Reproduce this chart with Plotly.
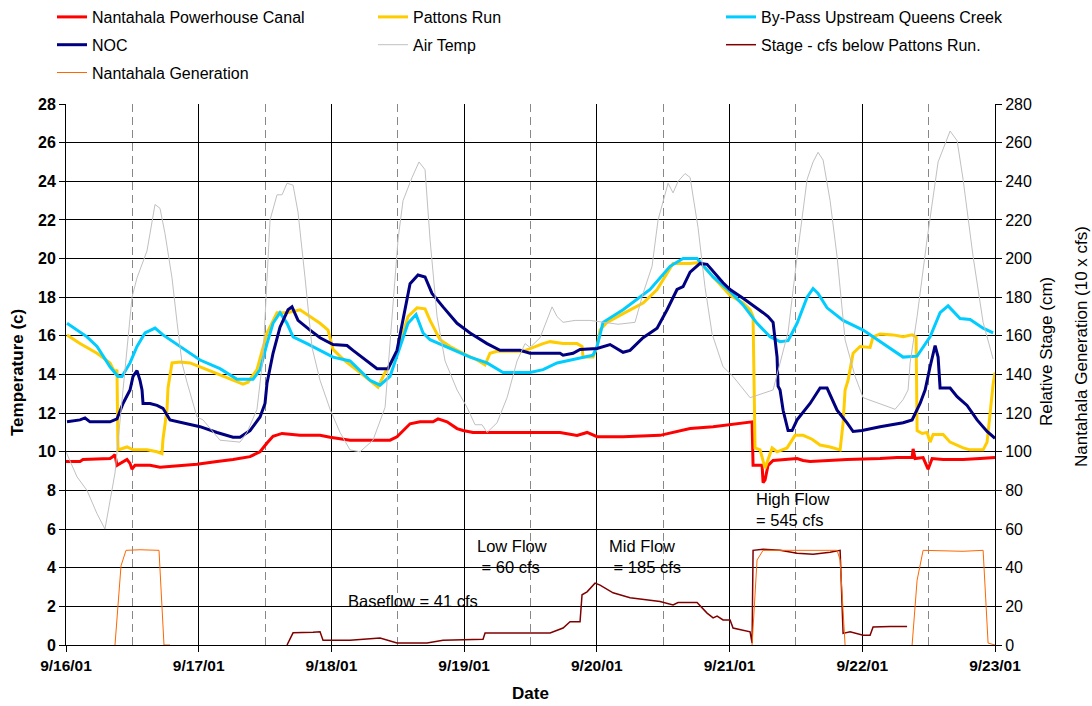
import pandas as pd
import plotly.graph_objects as go

# ---------------- data (hours after 9/16/01 00:00, value) ----------------
canal = [(0, 9.5), (2.53, 9.5), (3.07, 9.6), (7.96, 9.65), (8.5, 9.75), (8.86, 9.85), (9.22, 9.3),
         (10.13, 9.45), (11.03, 9.6), (11.58, 9.4), (11.94, 9.1), (12.48, 9.3), (15.19, 9.3), (17.0, 9.2),
         (20.62, 9.3), (23.69, 9.35), (27.31, 9.5), (30.2, 9.6), (33.28, 9.75), (35.09, 10.0), (36.35, 10.45),
         (37.44, 10.8), (39.07, 10.95), (40.51, 10.9), (42.32, 10.85), (45.94, 10.85), (47.75, 10.75),
         (51.36, 10.6), (58.6, 10.6), (59.86, 10.78), (62.22, 11.45), (64.02, 11.55), (66.38, 11.55),
         (67.28, 11.7), (68.91, 11.55), (70.72, 11.2), (71.8, 11.1), (73.61, 11.0), (89.34, 11.0),
         (92.42, 10.85), (94.23, 11.0), (96.04, 10.78), (100.74, 10.78), (107.43, 10.85), (109.78, 11.0),
         (112.86, 11.2), (117.02, 11.3), (121.9, 11.45), (124.07, 11.55), (124.25, 9.3), (125.88, 9.3),
         (126.06, 8.4), (126.42, 8.55), (126.96, 9.3), (127.87, 9.55), (132.21, 9.65), (133.29, 9.55),
         (134.56, 9.5), (141.25, 9.6), (147.22, 9.65), (150.29, 9.7), (153.01, 9.7), (153.19, 10.15),
         (153.55, 9.65), (155.0, 9.7), (155.9, 9.1), (156.63, 9.65), (158.62, 9.6), (162.23, 9.6),
         (165.31, 9.65), (168.0, 9.7)]

pattons = [(0.18, 16.05), (2.53, 15.6), (5.61, 15.1), (7.96, 14.6), (8.86, 14.1), (9.22, 14.25), (9.4, 10.1),
           (11.03, 10.25), (12.12, 10.1), (14.65, 10.1), (16.46, 10.0), (17.36, 9.9), (17.54, 10.65),
           (18.27, 12.2), (18.45, 13.3), (19.17, 14.6), (20.62, 14.65), (22.43, 14.6), (25.5, 14.25),
           (30.2, 13.7), (32.01, 13.5), (32.92, 13.6), (34.54, 14.25), (36.35, 16.15), (38.16, 17.2),
           (39.97, 17.2), (42.32, 17.35), (45.94, 16.65), (47.39, 16.3), (48.29, 15.3), (50.46, 14.7),
           (53.17, 14.1), (56.43, 13.35), (57.69, 14.1), (59.86, 15.1), (61.85, 17.0), (63.48, 17.45),
           (64.93, 17.4), (65.83, 16.8), (67.64, 15.8), (69.45, 15.45), (71.8, 15.1), (74.33, 14.75),
           (75.78, 14.5), (76.68, 15.1), (77.95, 15.2), (82.65, 15.2), (86.27, 15.6), (87.54, 15.7),
           (89.89, 15.6), (92.42, 15.6), (93.32, 15.45), (93.5, 14.9), (95.31, 14.9), (96.04, 15.45),
           (96.58, 16.3), (97.85, 16.7), (100.74, 17.15), (104.36, 17.7), (106.89, 18.4), (107.97, 18.9),
           (109.78, 19.75), (112.86, 19.75), (114.67, 19.8), (117.02, 19.05), (120.09, 18.1), (122.44, 17.7),
           (123.71, 17.35), (124.25, 17.0), (124.61, 10.2), (125.52, 10.1), (126.06, 9.6), (126.42, 9.15),
           (126.96, 9.6), (127.69, 10.2), (128.59, 10.0), (130.4, 10.2), (131.85, 10.85), (133.29, 10.85),
           (134.92, 10.65), (136.37, 10.35), (138.18, 10.25), (139.99, 10.1), (140.53, 11.5), (140.89, 13.2),
           (141.43, 13.7), (142.34, 15.1), (143.6, 15.45), (145.41, 15.4), (145.95, 15.95), (147.22, 16.1),
           (149.57, 16.05), (151.38, 15.95), (153.01, 16.05), (153.73, 15.95), (153.91, 11.1), (154.82, 10.95),
           (155.72, 11.0), (156.26, 10.5), (156.81, 10.9), (158.62, 10.9), (159.88, 10.5), (162.23, 10.2),
           (163.5, 10.1), (165.85, 10.1), (166.57, 10.5), (167.12, 12.2), (167.66, 13.5), (168.0, 14.1)]

bypass = [(0.18, 16.65), (3.8, 15.95), (5.61, 15.45), (7.96, 14.4), (9.4, 13.9), (10.13, 13.9), (11.58, 14.6),
          (12.84, 15.45), (14.29, 16.15), (16.1, 16.4), (17.54, 16.05), (20.62, 15.45), (24.24, 14.75),
          (27.85, 14.3), (30.93, 13.75), (33.82, 13.75), (35.09, 14.25), (36.35, 15.6), (37.44, 16.65),
          (38.7, 17.2), (39.97, 16.65), (41.06, 15.95), (43.59, 15.6), (48.29, 14.9), (51.36, 14.7),
          (54.98, 13.7), (56.79, 13.45), (58.6, 13.9), (60.41, 15.45), (61.85, 16.65), (63.3, 17.1),
          (64.57, 16.15), (65.83, 15.8), (68.18, 15.5), (73.07, 14.9), (76.14, 14.6), (79.04, 14.1),
          (83.92, 14.1), (86.27, 14.25), (88.8, 14.6), (92.96, 14.85), (95.31, 15.0), (96.04, 15.45),
          (97.12, 16.7), (100.74, 17.35), (105.62, 18.4), (109.24, 19.6), (111.59, 20.0), (114.12, 20.0),
          (117.02, 19.05), (120.09, 18.3), (122.44, 17.6), (124.97, 16.65), (127.32, 15.95), (129.13, 15.7),
          (130.58, 15.75), (132.21, 16.65), (134.02, 18.0), (135.1, 18.45), (136.0, 18.2), (137.63, 17.45),
          (140.53, 16.8), (144.15, 16.3), (147.76, 15.6), (151.38, 14.9), (153.91, 14.95), (156.26, 15.95),
          (158.07, 17.2), (159.52, 17.55), (161.69, 16.9), (163.5, 16.85), (165.85, 16.4), (167.66, 16.15)]

noc = [(0.18, 11.55), (2.53, 11.65), (3.44, 11.75), (4.34, 11.55), (7.96, 11.55), (9.22, 11.7), (10.31, 12.5),
       (11.58, 13.2), (12.12, 13.9), (12.84, 14.2), (13.38, 13.7), (13.75, 13.2), (13.93, 12.5), (15.19, 12.5),
       (16.46, 12.4), (17.54, 12.25), (18.81, 11.65), (21.16, 11.5), (24.24, 11.3), (27.31, 11.0),
       (30.2, 10.75), (31.47, 10.75), (33.28, 11.1), (35.09, 11.8), (35.99, 12.5), (36.35, 13.55),
       (37.44, 15.1), (38.7, 16.45), (40.15, 17.35), (40.87, 17.5), (41.96, 16.8), (44.13, 16.3),
       (45.94, 15.9), (48.29, 15.55), (50.82, 15.5), (51.91, 15.25), (56.25, 14.3), (58.24, 14.3),
       (59.86, 15.25), (62.22, 18.7), (63.66, 19.15), (64.93, 19.05), (66.19, 18.2), (68.18, 17.5),
       (70.72, 16.65), (73.07, 16.15), (76.14, 15.6), (78.49, 15.25), (82.11, 15.25), (83.92, 15.1),
       (89.34, 15.1), (89.89, 15.0), (91.7, 15.1), (92.96, 15.3), (96.04, 15.35), (98.39, 15.55),
       (100.74, 15.15), (102.0, 15.25), (104.36, 15.9), (106.89, 16.4), (108.7, 17.35), (110.5, 18.4),
       (111.59, 18.55), (112.86, 19.3), (114.67, 19.75), (115.93, 19.7), (118.82, 18.75), (120.09, 18.4),
       (122.44, 17.95), (126.06, 17.2), (126.96, 17.0), (127.87, 16.7), (128.59, 14.9), (128.77, 13.4),
       (129.13, 13.2), (129.68, 12.15), (130.58, 11.1), (131.3, 11.1), (132.21, 11.65), (134.56, 12.5),
       (136.37, 13.3), (137.63, 13.3), (139.44, 12.15), (141.25, 11.5), (142.34, 11.05), (143.96, 11.1),
       (147.22, 11.3), (151.38, 11.5), (153.01, 11.65), (154.45, 12.5), (155.36, 13.2), (156.26, 14.4),
       (157.17, 15.5), (157.71, 14.9), (158.07, 13.3), (159.88, 13.3), (161.15, 12.85), (162.95, 12.4),
       (164.76, 11.65), (166.57, 11.05), (168.0, 10.7)]

air = [(0, 10.0), (2.0, 8.7), (3.8, 8.0), (5.6, 6.8), (7.05, 6.0), (8.86, 8.9), (9.4, 10.5), (10.3, 13.2),
       (11.94, 18.0), (12.84, 19.0), (14.65, 20.4), (16.1, 22.8), (17.0, 22.6), (17.9, 21.3), (19.17, 19.0),
       (20.08, 16.7), (20.98, 14.6), (21.88, 13.6), (23.69, 11.8), (24.78, 11.65), (27.85, 10.6),
       (31.47, 10.5), (32.74, 11.0), (34.54, 12.2), (35.63, 14.9), (36.9, 22.0), (38.16, 23.3), (39.07, 23.3),
       (39.97, 23.9), (41.06, 23.8), (41.96, 22.4), (43.23, 19.0), (44.49, 15.4), (45.94, 13.7),
       (47.75, 12.2), (49.56, 11.0), (51.36, 10.1), (53.17, 10.0), (55.52, 10.6), (57.7, 12.3),
       (59.14, 17.5), (60.05, 21.0), (60.95, 23.0), (62.58, 24.2), (63.84, 25.0), (64.93, 24.6),
       (65.83, 21.0), (67.1, 17.0), (68.55, 14.7), (70.72, 13.2), (72.52, 12.3), (73.97, 11.4),
       (75.24, 11.4), (76.14, 11.0), (77.95, 11.5), (79.76, 12.8), (81.57, 14.7), (83.01, 15.6),
       (83.92, 15.4), (85.73, 15.9), (87.9, 17.5), (88.8, 17.0), (89.89, 16.7), (92.06, 16.8),
       (94.77, 16.8), (97.85, 16.7), (99.83, 16.6), (102.9, 16.7), (104.36, 18.2), (105.98, 19.6),
       (107.07, 22.0), (108.88, 23.9), (109.78, 23.4), (110.69, 24.0), (111.95, 24.4), (112.86, 24.2),
       (114.3, 21.6), (115.57, 18.5), (116.84, 16.1), (118.82, 14.4), (120.63, 13.9), (123.71, 12.8),
       (127.87, 13.2), (130.58, 16.2), (132.21, 20.1), (134.02, 24.1), (135.1, 25.0), (136.0, 25.5),
       (136.91, 25.1), (138.18, 23.0), (139.44, 20.1), (140.89, 15.8), (142.7, 13.9), (144.15, 12.8),
       (147.22, 12.5), (149.93, 12.2), (151.38, 12.7), (152.28, 13.2), (152.65, 14.6), (153.91, 17.0),
       (155.72, 21.0), (157.71, 25.0), (159.88, 26.6), (161.15, 26.1), (162.23, 24.1), (164.04, 20.1),
       (165.85, 16.7), (167.66, 14.8)]

# right axis (Relative Stage cm / Generation 10 x cfs)
stage = [(39.97, 0), (40.87, 6.0), (41.06, 6.3), (44.67, 6.6), (45.94, 6.8), (46.48, 2.5), (51.36, 2.5),
         (56.79, 3.6), (59.86, 1.0), (65.29, 1.0), (68.18, 2.5), (75.42, 3.0), (75.78, 6.2), (87.54, 6.2),
         (89.89, 8.8), (91.15, 12.0), (92.96, 12.0), (93.32, 26.0), (94.23, 27.5), (95.67, 32.0),
         (96.58, 31.0), (98.93, 27.0), (102.0, 24.5), (107.43, 22.5), (109.78, 20.7), (110.69, 22.0),
         (114.12, 22.0), (115.93, 16.5), (117.02, 14.0), (117.75, 15.0), (118.82, 13.0), (120.09, 13.0),
         (120.63, 8.8), (123.71, 6.8), (124.07, 1.0), (124.25, 49.0), (126.06, 49.5), (129.13, 49.0),
         (132.21, 47.5), (135.1, 47.0), (138.18, 48.0), (139.99, 49.0), (140.53, 6.0), (141.79, 6.8),
         (144.15, 5.0), (145.41, 5.0), (145.95, 9.3), (149.03, 9.6), (152.1, 9.6)]

generation = [(8.86, 0), (9.95, 41), (10.85, 49), (13.38, 49.3), (16.82, 49), (17.72, 0), (18.81, 0),
              (None, None),
              (124.07, 0), (124.97, 44), (126.06, 49), (139.44, 49), (139.99, 44), (140.89, 0),
              (None, None),
              (153.01, 0), (153.91, 33.5), (155.0, 49), (162.23, 48.5), (165.85, 49), (166.75, 1), (168.0, 0)]

start = pd.Timestamp("2001-09-16")


def xy(pairs):
    xs = [None if h is None else start + pd.Timedelta(hours=h) for h, _ in pairs]
    ys = [v for _, v in pairs]
    return xs, ys


FONT = "Liberation Sans, Arial, sans-serif"

series = [
    ("Nantahala Powerhouse Canal", canal, "#FF0000", 3, "y", "legend"),
    ("Pattons Run", pattons, "#FFCC00", 3, "y", "legend2"),
    ("By-Pass Upstream Queens Creek", bypass, "#00CCFF", 3, "y", "legend3"),
    ("NOC", noc, "#000080", 3, "y", "legend"),
    ("Air Temp", air, "#C0C0C0", 1, "y", "legend2"),
    ("Stage - cfs below Pattons Run.", stage, "#800000", 1.5, "y2", "legend3"),
    ("Nantahala Generation", generation, "#FF6600", 1, "y2", "legend"),
]

fig = go.Figure()
for i, (name, data, color, w, yax, leg) in enumerate(series):
    xs, ys = xy(data)
    fig.add_trace(go.Scatter(x=xs, y=ys, name=name, mode="lines", yaxis=yax, legend=leg,
                             legendgroup=f"g{i}", line=dict(color=color, width=w),
                             connectgaps=False))

W, H = 1092, 706
L, R, T, B = 66, 97, 104, 61
pw, ph = W - L - R, H - T - B


def px_x(p):
    return (p - L) / pw


def px_y(p):
    return 1 - (p - T) / ph


legend_common = dict(font=dict(family=FONT, size=16, color="#000"), bgcolor="rgba(0,0,0,0)",
                     traceorder="grouped", tracegroupgap=4, yanchor="top", xanchor="left",
                     xref="container", yref="container")

fig.update_layout(
    width=W, height=H,
    margin=dict(l=L, r=R, t=T, b=B, autoexpand=False),
    paper_bgcolor="white", plot_bgcolor="white",
    font=dict(family=FONT, color="#000"),
    showlegend=True,
    legend=dict(x=52 / W, y=1 - (-9) / H, **legend_common),
    legend2=dict(x=373 / W, y=1 - (-9) / H, **legend_common),
    legend3=dict(x=721 / W, y=1 - (-9) / H, **legend_common),
    xaxis=dict(
        type="date", range=[start, start + pd.Timedelta(days=7)],
        dtick=86400000, tick0=start, tickformat="%-m/%d/%y",
        tickfont=dict(family=FONT, size=15.5, weight="bold", color="#000"),
        ticks="outside", ticklen=6, tickcolor="#000",
        showline=True, linecolor="#000", linewidth=1,
        showgrid=True, gridcolor="#000", gridwidth=1,
        minor=dict(dtick=43200000, showgrid=True, gridcolor="#888888", griddash="8px,5px", gridwidth=1),
        title=dict(text="Date", font=dict(family=FONT, size=17, weight="bold", color="#000"), standoff=14),
        zeroline=False, automargin=False,
    ),
    yaxis=dict(
        range=[0, 28], dtick=2, tick0=0,
        tickfont=dict(family=FONT, size=16, weight="bold", color="#000"),
        ticks="outside", ticklen=6, tickcolor="#000",
        showline=True, linecolor="#000", linewidth=1,
        showgrid=True, gridcolor="#000", gridwidth=1, zeroline=False, automargin=False,
    ),
    yaxis2=dict(
        range=[0, 280], dtick=20, tick0=0, overlaying="y", side="right",
        tickfont=dict(family=FONT, size=16, color="#000"),
        ticks="outside", ticklen=6, tickcolor="#000",
        showline=True, linecolor="#000", linewidth=1,
        showgrid=False, zeroline=False, automargin=False,
    ),
)

ann_font = dict(family=FONT, size=16.5, color="#000")


def hx(h):
    return start + pd.Timedelta(hours=h)


annotations = [
    dict(x=px_x(17), y=px_y(373), xref="paper", yref="paper", text="<b>Temperature (c)</b>",
         textangle=-90, showarrow=False, font=dict(family=FONT, size=17, color="#000"),
         xanchor="center", yanchor="middle"),
    dict(x=px_x(1046), y=px_y(352), xref="paper", yref="paper", text="Relative Stage (cm)",
         textangle=-90, showarrow=False, font=dict(family=FONT, size=17, color="#000"),
         xanchor="center", yanchor="middle"),
    dict(x=px_x(1081), y=px_y(347), xref="paper", yref="paper", text="Nantahala Generation (10 x cfs)",
         textangle=-90, showarrow=False, font=dict(family=FONT, size=17, color="#000"),
         xanchor="center", yanchor="middle"),
    dict(x=hx(50.6), y=2.28, xref="x", yref="y", text="Baseflow = 41 cfs", showarrow=False,
         font=ann_font, xanchor="left", yanchor="middle"),
    dict(x=hx(73.9), y=4.58, xref="x", yref="y", text="Low Flow<br>\u00a0= 60 cfs", showarrow=False,
         font=ann_font, xanchor="left", yanchor="middle", align="left"),
    dict(x=hx(97.8), y=4.58, xref="x", yref="y", text="Mid Flow<br>\u00a0= 185 cfs", showarrow=False,
         font=ann_font, xanchor="left", yanchor="middle", align="left"),
    dict(x=hx(124.4), y=7.0, xref="x", yref="y", text="High Flow<br>= 545 cfs", showarrow=False,
         font=ann_font, xanchor="left", yanchor="middle", align="left"),
]
fig.update_layout(annotations=annotations)

fig.write_html("out.html")
